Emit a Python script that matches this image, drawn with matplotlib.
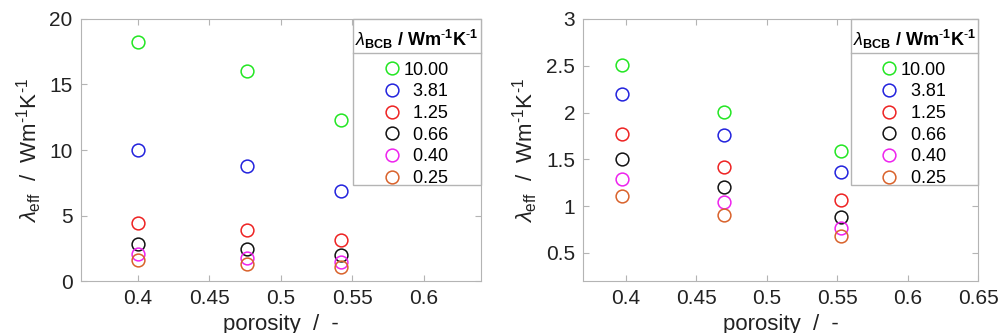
import matplotlib
matplotlib.use("Agg")
import matplotlib.pyplot as plt
from matplotlib.lines import Line2D
from matplotlib.patches import Rectangle

plt.rcParams['font.family'] = ['Liberation Sans', 'DejaVu Sans']
plt.rcParams['mathtext.fontset'] = 'custom'
plt.rcParams['mathtext.rm'] = 'Liberation Sans'
plt.rcParams['mathtext.it'] = 'Liberation Sans:italic'
plt.rcParams['mathtext.bf'] = 'Liberation Sans:bold'

labels = ['10.00', '\u20073.81', '\u20071.25', '\u20070.66', '\u20070.40', '\u20070.25']
colors = ['#22e622', '#2222dd', '#ee2222', '#111111', '#ee22ee', '#d9622b']

porosity_a = [0.400, 0.4765, 0.542]
values_a = [
    [18.24, 16.03, 12.29],
    [10.00, 8.75, 6.84],
    [4.45, 3.89, 3.13],
    [2.82, 2.47, 1.98],
    [2.04, 1.73, 1.42],
    [1.58, 1.32, 1.09],
]

porosity_b = [0.3977, 0.4696, 0.553]
values_b = [
    [2.51, 2.01, 1.59],
    [2.20, 1.757, 1.36],
    [1.775, 1.418, 1.061],
    [1.50, 1.207, 0.889],
    [1.289, 1.043, 0.771],
    [1.107, 0.904, 0.679],
]

fig = plt.figure(figsize=(9.99, 3.33), dpi=100)
ax1 = fig.add_axes([0.081, 0.156, 0.4004, 0.787])
ax2 = fig.add_axes([0.584, 0.156, 0.395, 0.787])

spine_c = '#b4b4b4'
title = r'$\lambda_{\mathbf{BCB}}\ \mathbf{/\ Wm^{\text{-}1}K^{\text{-}1}}$'

for ax, xs, vals, box_x0 in [(ax1, porosity_a, values_a, 0.68), (ax2, porosity_b, values_b, 0.677)]:
    for v, c, l in zip(vals, colors, labels):
        ax.plot(xs, v, linestyle='none', marker='o', markersize=9.2,
                markerfacecolor='none', markeredgecolor=c, markeredgewidth=1.1, label=l)
    for s in ax.spines.values():
        s.set_color(spine_c)
    ax.tick_params(direction='in', top=True, right=True, length=4, color=spine_c,
                   labelsize=15, labelcolor='#222222', pad=6)
    ax.set_xlabel('porosity  /  -', fontsize=16, color='#222222', labelpad=4)
    ax.set_ylabel(r'$\lambda_{\mathrm{eff}}$  /  Wm$^{\text{-}1}$K$^{\text{-}1}$', fontsize=16,
                  color='#222222', labelpad=4)
    # legend frame and header separator
    box_y0 = 0.366
    ax.add_patch(Rectangle((box_x0, box_y0), 1 - box_x0, 1 - box_y0, transform=ax.transAxes,
                           facecolor='white', edgecolor=spine_c, linewidth=1.0,
                           zorder=4.5, clip_on=False))
    ax.add_line(Line2D([box_x0, 1], [0.870, 0.870], transform=ax.transAxes,
                       color=spine_c, linewidth=1.0, zorder=4.6, clip_on=False))
    cx = (box_x0 + 1) / 2
    leg = ax.legend(loc='upper center', bbox_to_anchor=(cx, 0.965), title=title,
                    fontsize=13, title_fontsize=13, frameon=False,
                    borderaxespad=0, handlelength=0.7, handletextpad=0.3,
                    labelspacing=0.26, borderpad=0.0)
    leg._legend_box.sep = 7.5
    leg.set_zorder(5)

ax1.set_xlim(0.36, 0.64)
ax1.set_ylim(0, 20)
ax1.set_xticks([0.4, 0.45, 0.5, 0.55, 0.6])
ax1.set_xticklabels(['0.4', '0.45', '0.5', '0.55', '0.6'])
ax1.set_yticks([0, 5, 10, 15, 20])

ax2.set_xlim(0.37, 0.65)
ax2.set_ylim(0.2, 3)
ax2.set_xticks([0.4, 0.45, 0.5, 0.55, 0.6, 0.65])
ax2.set_xticklabels(['0.4', '0.45', '0.5', '0.55', '0.6', '0.65'])
ax2.set_yticks([0.5, 1, 1.5, 2, 2.5, 3])
ax2.set_yticklabels(['0.5', '1', '1.5', '2', '2.5', '3'])

fig.savefig('out.png', dpi=100)
